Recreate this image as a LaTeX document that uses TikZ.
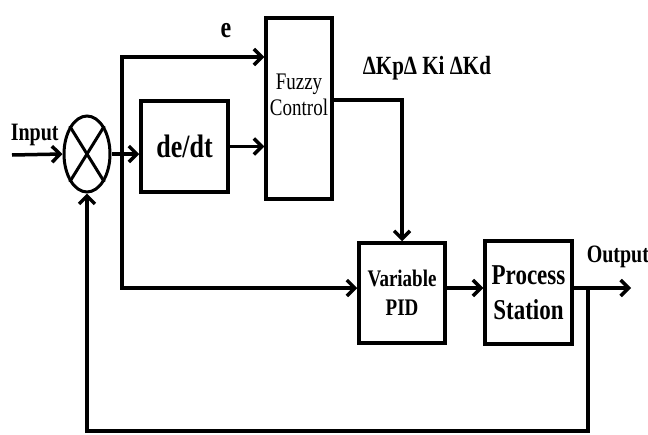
\documentclass[tikz,border=0pt]{standalone}
\usepackage{fontspec}
\setmainfont{Liberation Serif}
\usetikzlibrary{arrows.meta,calc,shapes.geometric}
\newcommand{\vstretch}[1]{\scalebox{1}[1.25]{#1}}

\begin{document}
\begin{tikzpicture}[x=1pt, y=-1pt, >={Straight Barb[length=8pt,width=16pt]}, line width=3.5pt,
  block/.style={draw, rectangle, inner sep=0pt, align=center, font=\bfseries\fontsize{19}{29}\selectfont},
  lbl/.style={inner sep=0pt, font=\bfseries\fontsize{20}{24}\selectfont}]
\useasboundingbox (0,0) rectangle (648,434);
% blocks
\node[draw, ellipse, minimum width=46pt, minimum height=76pt, line width=3pt, inner sep=0pt] (sum) at (87,154) {};
\draw[line width=3pt] (sum.north west) -- (sum.south east) (sum.north east) -- (sum.south west);
\node[block, minimum width=87pt, minimum height=91pt, font=\bfseries\fontsize{26}{30}\selectfont] (dedt) at (184.5,146.5) {\vstretch{de/dt}};
\node[block, minimum width=66pt, minimum height=181pt] (fuzzy) at (299,108.5) {};
\node[align=center, inner sep=0pt, font=\fontsize{19}{26}\selectfont] (fuzzytxt) at (299,95) {\vstretch{Fuzzy}\\\vstretch{Control}};
\node[block, minimum width=86pt, minimum height=100pt] (pid) at (402,293) {\vstretch{Variable}\\\vstretch{PID}};
\node[block, minimum width=87pt, minimum height=103pt, font=\bfseries\fontsize{23}{35}\selectfont] (proc) at (528.5,292.5) {\vstretch{Process}\\\vstretch{Station}};
% labels
\node[lbl, anchor=west] (input) at (9,135) {\vstretch{Input}};
\node[lbl, font=\bfseries\fontsize{24}{24}\selectfont] (elbl) at (226,31) {\vstretch{e}};
\node[lbl, anchor=west, font=\bfseries\fontsize{21}{24}\selectfont] (gains) at (361,68) {\vstretch{ΔKpΔ Ki ΔKd}};
\node[lbl, anchor=west] (output) at (585,257) {\vstretch{Output}};
% connectors
\coordinate (in) at (12,155);
\coordinate (br) at (122,155);
\coordinate (obr) at (588,288);
\coordinate (out) at (631,288);
\coordinate (fb) at (588,431);
\draw[->] (in) -- (sum.west);
\draw[->] (sum.east) -- (sum.east -| dedt.west);
\draw[->] (br) |- (fuzzy.west |- 0,57);
\draw[->] (dedt.east) -- (dedt.east -| fuzzy.west);
\draw[->] (br) |- (pid.west |- 0,288);
\draw[->] (fuzzy.east |- 0,100) -| (pid.north);
\draw[->] (pid.east |- 0,288) -- (proc.west |- 0,288);
\draw[->] (proc.east |- 0,288) -- (out);
\draw[->] (obr) -- (fb) -| (sum.south);
\end{tikzpicture}
\end{document}
